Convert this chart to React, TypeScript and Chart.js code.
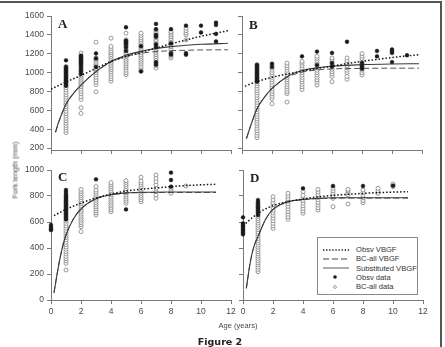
import React, { useEffect, useRef } from "react";
import { Chart, registerables } from "chart.js";
Chart.register(...registerables);

// ---------------- Panel A ----------------
const A_OPEN_AGES = [1, 2, 3, 4, 5, 6, 7, 8, 9];
const A_OPEN_VALUES = [
  [365, 390, 415, 440, 465, 490, 515, 540, 565, 590, 615, 640, 665, 690, 715, 740, 765, 790, 815, 840, 865, 890, 915, 940, 965, 990, 1015, 1040, 1065],
  [568, 628, 716, 745, 775, 800, 825, 850, 870, 890, 910, 930, 950, 970, 990, 1010, 1030, 1050, 1070, 1090, 1110, 1130, 1150, 1175, 1207],
  [797, 874, 900, 925, 950, 975, 1000, 1020, 1040, 1060, 1080, 1100, 1120, 1140, 1155, 1323],
  [909, 935, 960, 985, 1010, 1030, 1050, 1070, 1090, 1110, 1130, 1150, 1170, 1190, 1210, 1230, 1255, 1277, 1365],
  [979, 1000, 1025, 1050, 1070, 1090, 1110, 1130, 1150, 1170, 1190, 1210, 1230, 1250, 1270, 1290, 1310, 1330, 1347, 1418],
  [1014, 1040, 1065, 1090, 1110, 1130, 1150, 1170, 1190, 1210, 1230, 1250, 1270, 1290, 1310, 1330, 1350, 1370, 1395, 1418],
  [1049, 1075, 1100, 1125, 1150, 1170, 1190, 1210, 1230, 1250, 1270, 1290, 1310, 1330, 1350, 1370, 1390, 1410, 1430, 1453],
  [1154, 1175, 1200, 1225, 1250, 1275, 1300, 1320, 1340, 1360, 1380, 1400, 1420, 1435],
  [1347, 1400, 1420, 1445, 1470],
];
const A_OBS_AGES = [1, 2, 3, 5, 6, 7, 8, 9, 10, 11];
const A_OBS_VALUES = [
  [1130, 1060, 1040, 1020, 1000, 980, 960, 940, 920, 900, 880, 860],
  [1180, 1160, 1140, 1120, 1100, 1080, 1050, 1020, 990],
  [1203, 1150, 1060],
  [1481, 1340, 1320, 1300, 1270, 1230],
  [1014, 1280],
  [1516, 1460, 1400, 1380, 1300, 1270, 1110, 1084],
  [1460, 1310, 1207, 1190],
  [1498, 1207, 1190],
  [1498, 1425],
  [1530, 1505, 1410, 1330],
];
const A_OBSV_AGES = [0, 1, 2, 3, 4, 5, 6, 7, 8, 9, 10, 11.8];
const A_OBSV_VBGF = [825, 900, 970, 1045, 1118, 1170, 1214, 1260, 1305, 1345, 1385, 1444];
const A_FIT_AGES = [0.3, 0.5, 1, 1.5, 2, 3, 4, 5, 6, 7, 8, 9, 10, 11.8];
const A_SUBST_VBGF = [368, 470, 665, 780, 868, 1010, 1118, 1183, 1225, 1255, 1275, 1290, 1300, 1311];
const A_BCALL_VBGF = [368, 470, 665, 780, 868, 1010, 1112, 1172, 1205, 1223, 1232, 1237, 1240, 1242];

// ---------------- Panel B ----------------
const B_OPEN_AGES = [1, 2, 3, 4, 5, 6, 7, 8];
const B_OPEN_VALUES = [
  [311, 335, 360, 385, 410, 435, 460, 485, 510, 535, 560, 585, 610, 635, 660, 685, 710, 735, 760, 785, 810, 835, 860, 885, 910, 935, 960, 985, 1010, 1035, 1060, 1083],
  [670, 724, 750, 775, 800, 825, 850, 875, 900, 925, 950, 975, 1000, 1025, 1050, 1083],
  [688, 778, 800, 825, 850, 875, 900, 925, 950, 975, 1000, 1025, 1050, 1075, 1101],
  [821, 850, 875, 900, 925, 950, 975, 1000, 1025, 1050, 1075, 1100, 1119],
  [868, 900, 925, 950, 975, 1000, 1025, 1050, 1075, 1100, 1125, 1150, 1173],
  [904, 960, 985, 1010, 1035, 1060, 1085, 1110, 1135, 1155],
  [929, 960, 1000, 1025, 1050, 1075, 1100, 1125, 1155],
  [975, 1000, 1025, 1050, 1075, 1100, 1125, 1150, 1175, 1202],
];
const B_OBS_AGES = [1, 2, 4, 5, 6, 7, 8, 9, 10, 11];
const B_OBS_VALUES = [
  [1083, 1060, 1040, 1020, 1000, 980, 960, 940, 920, 904],
  [1094, 1060],
  [1173],
  [1223, 1080],
  [1209, 1101, 1065],
  [1327],
  [1101, 1065, 1040],
  [1230, 1173],
  [1245, 1225, 1209, 1112],
  [1184],
];
const B_OBSV_AGES = [0.2, 1, 2, 3, 4, 6, 8, 10, 11.8];
const B_OBSV_VBGF = [857, 905, 950, 985, 1015, 1070, 1119, 1160, 1190];
const B_FIT_AGES = [0.3, 0.5, 1, 1.5, 2, 3, 4, 5, 6, 8, 10, 11.8];
const B_SUBST_VBGF = [301, 400, 617, 740, 832, 957, 1022, 1050, 1068, 1085, 1092, 1094];
const B_BCALL_VBGF = [301, 400, 617, 740, 832, 950, 1005, 1028, 1039, 1045, 1047, 1047];

// ---------------- Panel C ----------------
const C_OPEN_AGES = [1, 2, 3, 4, 5, 6, 7, 8, 9];
const C_OPEN_VALUES = [
  [231, 282, 300, 318, 336, 354, 372, 390, 408, 426, 444, 462, 480, 498, 516, 534, 552, 570, 588, 606, 624, 642, 660, 678, 696, 714, 732, 750, 768, 795],
  [526, 564, 580, 596, 612, 628, 644, 660, 676, 692, 708, 724, 740, 756, 772, 788, 804, 820, 836, 851],
  [654, 670, 686, 702, 718, 734, 750, 766, 782, 798, 814, 830, 846, 872],
  [679, 695, 711, 727, 743, 759, 775, 791, 807, 823, 839, 855, 871, 887, 903],
  [744, 760, 776, 792, 808, 824, 840, 856, 872, 888, 904, 918],
  [756, 772, 788, 804, 820, 836, 852, 868, 884, 900, 916, 944],
  [782, 808, 834, 860, 886, 912, 937, 962],
  [821, 840, 859],
  [877],
];
const C_OBS_AGES = [0, 1, 3, 5, 8];
const C_OBS_VALUES = [
  [577, 560, 545, 538],
  [846, 830, 814, 798, 782, 766, 750, 734, 718, 702, 686, 670, 654, 638, 620],
  [928],
  [697],
  [980, 923, 872],
];
const C_OBSV_AGES = [0.2, 1, 2, 3, 4, 5, 6, 7, 8, 9, 10, 11];
const C_OBSV_VBGF = [649, 697, 745, 785, 815, 838, 852, 862, 872, 880, 886, 890];
const C_FIT_AGES = [0.2, 0.5, 0.75, 1, 1.5, 2, 3, 4, 5, 6, 8, 11];
const C_SUBST_VBGF = [56, 260, 400, 500, 625, 700, 778, 810, 824, 829, 831, 831];
const C_BCALL_VBGF = [56, 260, 400, 500, 625, 700, 777, 808, 821, 826, 827, 827];

// ---------------- Panel D ----------------
const D_OPEN_AGES = [1, 2, 3, 4, 5, 6, 7, 8, 9, 10];
const D_OPEN_VALUES = [
  [218, 235, 252, 269, 286, 303, 320, 337, 354, 371, 388, 405, 422, 439, 456, 473, 490, 507, 524, 541, 558, 575, 592, 609, 626, 643, 660, 677, 694, 711, 728, 744],
  [551, 570, 590, 610, 630, 650, 670, 690, 710, 730, 750, 770, 795],
  [621, 640, 660, 680, 700, 720, 740, 760, 780, 800, 821],
  [667, 685, 705, 725, 745, 765, 785, 805, 833],
  [692, 710, 730, 750, 770, 790, 810, 830, 851],
  [718, 782, 800, 820, 840, 859],
  [738, 808, 825, 840, 851],
  [749, 765, 785, 805, 825, 846],
  [821, 840, 859],
  [872, 882, 892],
];
const D_OBS_AGES = [0, 1, 4, 6, 8, 10];
const D_OBS_VALUES = [
  [636, 590, 577, 565, 553, 541, 530, 518, 505],
  [769, 750, 730, 712, 695, 675, 654],
  [859],
  [877],
  [877],
  [880],
];
const D_OBSV_AGES = [0, 1, 2, 3, 4, 5, 6, 7, 8, 9, 10, 11];
const D_OBSV_VBGF = [572, 667, 726, 756, 777, 793, 805, 813, 820, 826, 830, 833];
const D_FIT_AGES = [0.22, 0.5, 0.75, 1, 1.5, 2, 3, 4, 5, 6, 8, 11];
const D_SUBST_VBGF = [90, 300, 420, 487, 620, 697, 756, 774, 782, 786, 787, 787];
const D_BCALL_VBGF = [90, 300, 420, 487, 620, 697, 755, 772, 780, 783, 784, 784];

// ---------------- Axes ----------------
const AGE_TICKS = [0, 2, 4, 6, 8, 10, 12];
const TOP_Y_TICKS = [200, 400, 600, 800, 1000, 1200, 1400, 1600];
const BOTTOM_Y_TICKS = [0, 200, 400, 600, 800, 1000];

const FONT = "'Liberation Sans', Arial, Helvetica, sans-serif";
const AXIS_COLOR = "#7a7a7a";
const TEXT_COLOR = "#4a4a4a";

type PanelSpec = {
  openAges: number[];
  openValues: number[][];
  obsAges: number[];
  obsValues: number[][];
  obsvAges: number[];
  obsv: number[];
  fitAges: number[];
  subst: number[];
  bcall: number[];
  yMin: number;
  yMax: number;
  yTicks: number[];
  showX: boolean;
  showY: boolean;
  yWidth: number;
  xHeight: number;
  padTop: number;
  padRight: number;
};

const toPoints = (ages: number[], vals: number[][]) =>
  ages.flatMap((a, i) => vals[i].map((v) => ({ x: a, y: v })));
const toLine = (ages: number[], vals: number[]) => ages.map((a, i) => ({ x: a, y: vals[i] }));

function buildConfig(s: PanelSpec): any {
  return {
    type: "scatter",
    data: {
      datasets: [
        {
          label: "Obsv data",
          data: toPoints(s.obsAges, s.obsValues),
          pointRadius: 1.9,
          pointBackgroundColor: "#1a1a1a",
          pointBorderColor: "#1a1a1a",
          pointBorderWidth: 0.5,
          showLine: false,
          clip: false,
          order: 0,
        },
        {
          label: "Obsv VBGF",
          type: "line",
          data: toLine(s.obsvAges, s.obsv),
          borderColor: "#111",
          borderWidth: 1.5,
          borderDash: [1.5, 2],
          pointRadius: 0,
          cubicInterpolationMode: "monotone",
          fill: false,
          order: 1,
        },
        {
          label: "Substituted VBGF",
          type: "line",
          data: toLine(s.fitAges, s.subst),
          borderColor: "#3a3a3a",
          borderWidth: 1.1,
          pointRadius: 0,
          cubicInterpolationMode: "monotone",
          fill: false,
          order: 2,
        },
        {
          label: "BC-all VBGF",
          type: "line",
          data: toLine(s.fitAges, s.bcall),
          borderColor: "#555",
          borderWidth: 1,
          borderDash: [6, 3],
          pointRadius: 0,
          cubicInterpolationMode: "monotone",
          fill: false,
          order: 3,
        },
        {
          label: "BC-all data",
          data: toPoints(s.openAges, s.openValues),
          pointRadius: 2,
          pointBackgroundColor: "#ffffff",
          pointBorderColor: "#808080",
          pointBorderWidth: 0.8,
          showLine: false,
          clip: false,
          order: 4,
        },
      ],
    },
    options: {
      responsive: false,
      animation: false,
      devicePixelRatio: 1,
      layout: { padding: { top: s.padTop, right: s.padRight, left: 0, bottom: 0 } },
      plugins: { legend: { display: false }, tooltip: { enabled: false }, title: { display: false } },
      events: [],
      scales: {
        x: {
          type: "linear",
          min: 0,
          max: 12,
          afterBuildTicks: (axis: any) => {
            axis.ticks = AGE_TICKS.map((v) => ({ value: v }));
          },
          afterFit: (axis: any) => {
            axis.height = s.xHeight;
            axis.paddingLeft = 0;
            axis.paddingRight = 0;
          },
          grid: { drawOnChartArea: false, drawTicks: true, tickLength: 4, color: AXIS_COLOR, lineWidth: 1 },
          border: { display: true, color: AXIS_COLOR, width: 1 },
          ticks: {
            display: s.showX,
            autoSkip: false,
            maxRotation: 0,
            minRotation: 0,
            padding: 3,
            color: TEXT_COLOR,
            font: { family: FONT, size: 8.5 },
            callback: (v: any) => String(v),
          },
        },
        y: {
          type: "linear",
          min: s.yMin,
          max: s.yMax,
          afterBuildTicks: (axis: any) => {
            axis.ticks = s.yTicks.map((v) => ({ value: v }));
          },
          afterFit: (axis: any) => {
            axis.width = s.yWidth;
            axis.paddingTop = 0;
            axis.paddingBottom = 0;
          },
          grid: { drawOnChartArea: false, drawTicks: true, tickLength: 4, color: AXIS_COLOR, lineWidth: 1 },
          border: { display: true, color: AXIS_COLOR, width: 1 },
          ticks: {
            display: s.showY,
            autoSkip: false,
            padding: 3,
            color: TEXT_COLOR,
            font: { family: FONT, size: 8.5 },
            callback: (v: any) => String(v),
          },
        },
      },
    },
  };
}

const PANELS: { key: string; left: number; top: number; w: number; h: number; spec: PanelSpec }[] = [
  {
    key: "A", left: 0, top: 0, w: 240, h: 165,
    spec: {
      openAges: A_OPEN_AGES, openValues: A_OPEN_VALUES, obsAges: A_OBS_AGES, obsValues: A_OBS_VALUES,
      obsvAges: A_OBSV_AGES, obsv: A_OBSV_VBGF, fitAges: A_FIT_AGES, subst: A_SUBST_VBGF, bcall: A_BCALL_VBGF,
      yMin: 180, yMax: 1600, yTicks: TOP_Y_TICKS, showX: false, showY: true,
      yWidth: 51, xHeight: 15, padTop: 16, padRight: 9,
    },
  },
  {
    key: "B", left: 232, top: 0, w: 200, h: 165,
    spec: {
      openAges: B_OPEN_AGES, openValues: B_OPEN_VALUES, obsAges: B_OBS_AGES, obsValues: B_OBS_VALUES,
      obsvAges: B_OBSV_AGES, obsv: B_OBSV_VBGF, fitAges: B_FIT_AGES, subst: B_SUBST_VBGF, bcall: B_BCALL_VBGF,
      yMin: 180, yMax: 1600, yTicks: TOP_Y_TICKS, showX: false, showY: false,
      yWidth: 10, xHeight: 15, padTop: 16, padRight: 10,
    },
  },
  {
    key: "C", left: 0, top: 160, w: 240, h: 165,
    spec: {
      openAges: C_OPEN_AGES, openValues: C_OPEN_VALUES, obsAges: C_OBS_AGES, obsValues: C_OBS_VALUES,
      obsvAges: C_OBSV_AGES, obsv: C_OBSV_VBGF, fitAges: C_FIT_AGES, subst: C_SUBST_VBGF, bcall: C_BCALL_VBGF,
      yMin: 0, yMax: 1000, yTicks: BOTTOM_Y_TICKS, showX: true, showY: true,
      yWidth: 51, xHeight: 25, padTop: 10, padRight: 9,
    },
  },
  {
    key: "D", left: 232, top: 160, w: 200, h: 165,
    spec: {
      openAges: D_OPEN_AGES, openValues: D_OPEN_VALUES, obsAges: D_OBS_AGES, obsValues: D_OBS_VALUES,
      obsvAges: D_OBSV_AGES, obsv: D_OBSV_VBGF, fitAges: D_FIT_AGES, subst: D_SUBST_VBGF, bcall: D_BCALL_VBGF,
      yMin: 0, yMax: 1000, yTicks: BOTTOM_Y_TICKS, showX: true, showY: false,
      yWidth: 11, xHeight: 25, padTop: 10, padRight: 9,
    },
  },
];

const PANEL_LETTERS = [
  { t: "A", left: 58, top: 17 },
  { t: "B", left: 249, top: 18 },
  { t: "C", left: 58, top: 170 },
  { t: "D", left: 250, top: 171 },
];

const LEGEND_ITEMS = [
  { label: "Obsv VBGF", kind: "dotted" },
  { label: "BC-all VBGF", kind: "dashed" },
  { label: "Substituted VBGF", kind: "solid" },
  { label: "Obsv data", kind: "filled" },
  { label: "BC-all data", kind: "open" },
];

function Panel({ left, top, w, h, spec }: { left: number; top: number; w: number; h: number; spec: PanelSpec }) {
  const ref = useRef<HTMLCanvasElement | null>(null);
  useEffect(() => {
    if (!ref.current) return;
    const chart = new Chart(ref.current, buildConfig(spec));
    return () => chart.destroy();
  }, []);
  return (
    <canvas
      ref={ref}
      width={w}
      height={h}
      style={{ position: "absolute", left, top, width: w, height: h }}
    />
  );
}

function LegendSample({ kind }: { kind: string }) {
  return (
    <svg width={28} height={8} style={{ display: "block" }}>
      {kind === "dotted" && <line x1={1} y1={4} x2={27} y2={4} stroke="#111" strokeWidth={1.3} strokeDasharray="1.3 1.8" />}
      {kind === "dashed" && <line x1={1} y1={4} x2={27} y2={4} stroke="#444" strokeWidth={1} strokeDasharray="6 3" />}
      {kind === "solid" && <line x1={1} y1={4} x2={27} y2={4} stroke="#777" strokeWidth={1.2} />}
      {kind === "filled" && <circle cx={13} cy={4} r={1.8} fill="#1a1a1a" />}
      {kind === "open" && <circle cx={13} cy={4} r={1.4} fill="#fff" stroke="#888" strokeWidth={0.8} />}
    </svg>
  );
}

export default function App() {
  useEffect(() => {
    document.body.style.margin = "0";
    document.body.style.background = "#fff";
  }, []);
  return (
    <div style={{ position: "relative", width: 445, height: 347, overflow: "hidden", background: "#fff", fontFamily: FONT }}>
      {PANELS.map((p) => (
        <Panel key={p.key} left={p.left} top={p.top} w={p.w} h={p.h} spec={p.spec} />
      ))}
      {/* frame */}
      <div style={{ position: "absolute", left: 0, top: 1, width: 442, height: 1.5, background: "#555" }} />
      <div style={{ position: "absolute", left: 440, top: 1, width: 1.5, height: 346, background: "#555" }} />
      {PANEL_LETTERS.map((l) => (
        <div
          key={l.t}
          style={{
            position: "absolute", left: l.left, top: l.top, fontFamily: "'Liberation Serif', 'Times New Roman', serif",
            fontWeight: "bold", fontSize: 13, lineHeight: "13px", color: "#222",
          }}
        >
          {l.t}
        </div>
      ))}
      <div
        style={{
          position: "absolute", left: 15, top: 170, transform: "translate(-50%, -50%) rotate(-90deg)",
          fontSize: 7.5, color: TEXT_COLOR, whiteSpace: "nowrap", lineHeight: "9px",
        }}
      >
        Fork length (mm)
      </div>
      <div
        style={{
          position: "absolute", left: 238, top: 325, transform: "translate(-50%, -50%)",
          fontSize: 7.5, color: TEXT_COLOR, whiteSpace: "nowrap", lineHeight: "9px",
        }}
      >
        Age (years)
      </div>
      <div
        style={{
          position: "absolute", left: 220, top: 341, transform: "translate(-50%, -50%)",
          fontSize: 9.5, fontWeight: "bold", color: "#222", whiteSpace: "nowrap", lineHeight: "11px",
          fontFamily: "'DejaVu Sans', 'Liberation Sans', sans-serif",
        }}
      >
        Figure 2
      </div>
      {/* legend */}
      <div
        style={{
          position: "absolute", left: 317, top: 237, width: 101, height: 58,
          border: "1px solid #8a8a8a", background: "#fff", boxSizing: "border-box",
        }}
      >
        {LEGEND_ITEMS.map((it, i) => (
          <div
            key={it.label}
            style={{ position: "absolute", left: 4, top: 7 + i * 9.3, height: 9, display: "flex", alignItems: "center" }}
          >
            <LegendSample kind={it.kind} />
            <span style={{ marginLeft: 6, fontSize: 7.6, color: "#333", whiteSpace: "nowrap", lineHeight: "9px" }}>
              {it.label}
            </span>
          </div>
        ))}
      </div>
    </div>
  );
}
